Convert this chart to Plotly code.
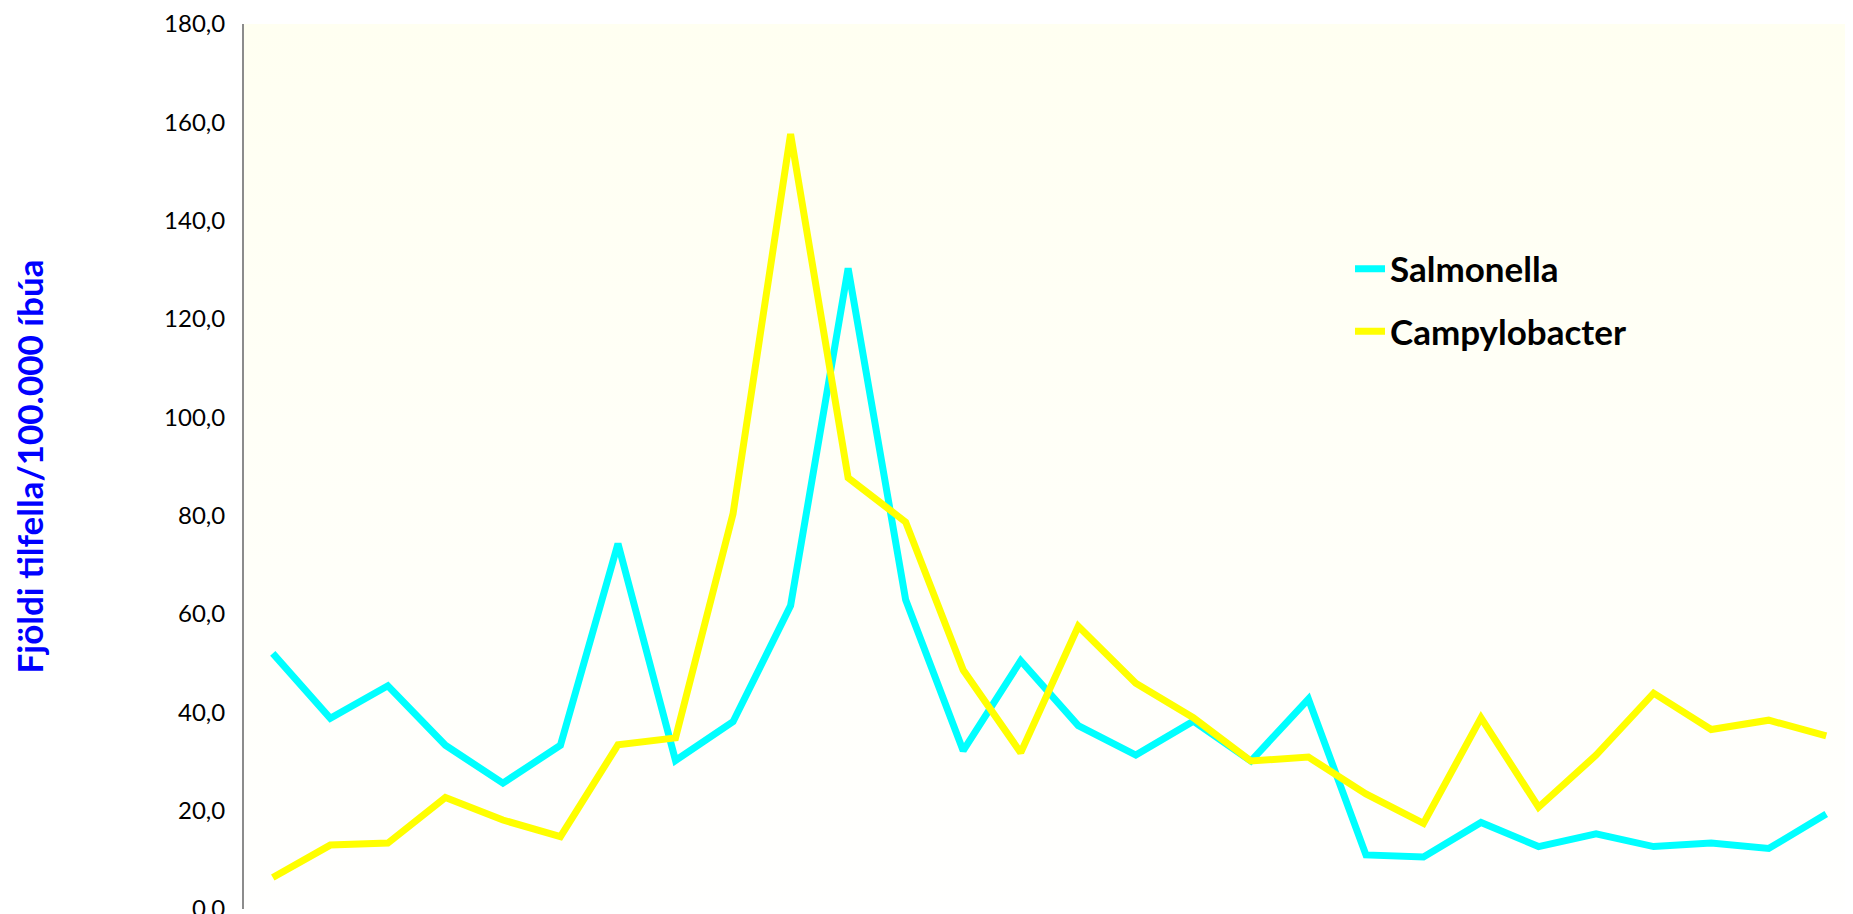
import base64
import plotly.graph_objects as go

years = list(range(1990, 2018))

salmonella = [52.0, 38.8, 45.4, 33.3, 25.6, 33.3, 74.3, 30.2, 38.1, 61.7,
              130.3, 62.9, 32.2, 50.5, 37.3, 31.3, 38.2, 30.1, 42.7, 11.0,
              10.6, 17.6, 12.7, 15.3, 12.7, 13.4, 12.3, 19.3]

campylobacter = [6.4, 13.0, 13.4, 22.7, 18.1, 14.7, 33.4, 34.8, 80.4, 157.6,
                 87.7, 78.7, 48.6, 31.8, 57.5, 45.9, 38.9, 30.1, 30.9, 23.4,
                 17.4, 38.9, 20.7, 31.3, 43.9, 36.5, 38.4, 35.2]

series_names = ["Salmonella", "Campylobacter"]
series_colors = ["#00FFFF", "#FFFF00"]
y_title = "Fjöldi tilfella/100.000 íbúa"

W, H = 1853, 914
ML, MR, MT, MB = 236, 6, 10, 0
plot_w = W - ML - MR
plot_h = H - MT - MB

fig = go.Figure()
for name, vals, col in zip(series_names, [salmonella, campylobacter], series_colors):
    fig.add_trace(go.Scatter(
        x=years, y=vals, name=name, mode="lines",
        line=dict(color=col, width=7),
        legendgroup=name,
    ))

# gradient plot background (cream at top fading to white)
svg = ('<svg xmlns="http://www.w3.org/2000/svg" width="10" height="100" preserveAspectRatio="none">'
       '<defs><linearGradient id="g" x1="0" y1="0" x2="0" y2="1">'
       '<stop offset="0" stop-color="#FFFFF1"/><stop offset="1" stop-color="#FFFFFE"/>'
       '</linearGradient></defs><rect width="10" height="100" fill="url(#g)"/></svg>')
src = "data:image/svg+xml;base64," + base64.b64encode(svg.encode()).decode()

fig.update_layout(
    width=W, height=H,
    margin=dict(l=ML, r=MR, t=MT, b=MB, pad=0),
    paper_bgcolor="white",
    plot_bgcolor="rgba(0,0,0,0)",
    separators=",.",
    font=dict(family="Lato, Liberation Sans, sans-serif", color="black"),
    images=[dict(source=src, xref="paper", yref="paper", x=0, y=1,
                 sizex=1, sizey=1, xanchor="left", yanchor="top",
                 sizing="stretch", layer="below")],
    showlegend=True,
    legend=dict(
        x=(1342 - ML) / plot_w, y=1 - (230 - MT) / plot_h,
        xanchor="left", yanchor="top",
        bgcolor="rgba(0,0,0,0)",
        font=dict(family="Lato, sans-serif", size=35, color="black", weight="bold"),
        itemwidth=30, traceorder="grouped", tracegroupgap=14,
    ),
    xaxis=dict(
        range=[1989.5, 2017.5], showticklabels=False, showgrid=False,
        zeroline=False, showline=False, ticks="",
    ),
    yaxis=dict(
        range=[0, 180], tick0=0, dtick=20, tickformat=".1f",
        showgrid=False, zeroline=False, ticks="",
        showline=True, linecolor="#8C8C8C", linewidth=2,
        tickfont=dict(family="Lato, sans-serif", size=24, color="black"),
        ticklabelstandoff=12, ticklabeloverflow="allow",
        title=dict(text=y_title, standoff=116,
                   font=dict(family="Lato, sans-serif", size=35, color="#0000FF", weight="bold")),
    ),
)

fig.write_html("out.html")
